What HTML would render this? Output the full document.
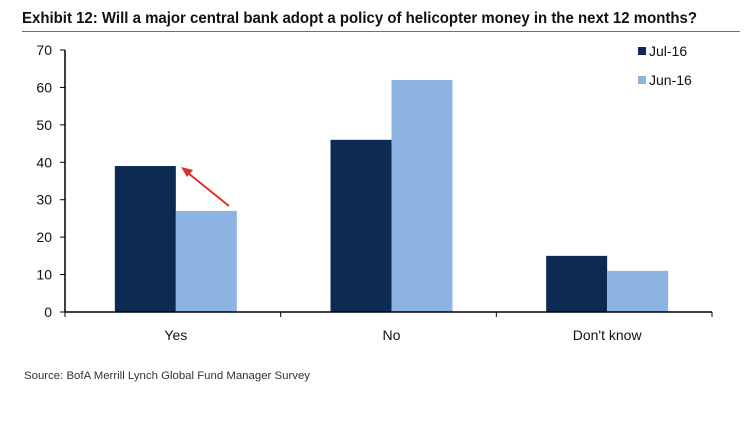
<!DOCTYPE html>
<html><head><meta charset="utf-8"><style>
body{margin:0;background:#fff;width:746px;height:428px;overflow:hidden;font-family:"Liberation Sans",Arial,sans-serif}
</style></head><body>
<svg width="746" height="428" style="position:absolute;left:0;top:0">
<text x="22" y="23" font-size="15.5" font-weight="bold" fill="#111" textLength="675" lengthAdjust="spacingAndGlyphs">Exhibit 12: Will a major central bank adopt a policy of helicopter money in the next 12 months?</text>
<line x1="22" y1="31.5" x2="740" y2="31.5" stroke="#5a7390" stroke-width="1"/>
<g id="plot"></g>
<text x="24" y="379" font-size="11" fill="#333" textLength="286" lengthAdjust="spacingAndGlyphs">Source: BofA Merrill Lynch Global Fund Manager Survey</text>
</svg>
<script>
const categories=["Yes","No","Don't know"];
const seriesNames=["Jul-16","Jun-16"];
const jul16=[39,46,15];
const jun16=[27,62,11];
const yTicks=[0,10,20,30,40,50,60,70];
const colors=["#0c2a52","#8db3e2"];
const NS="http://www.w3.org/2000/svg";
const g=document.getElementById('plot');
const x0=65,x1=712,y0=312,yTop=50,ymax=70;
const y=v=>y0-(v/ymax)*(y0-yTop);
const cw=(x1-x0)/categories.length;
function mk(t,a){const e=document.createElementNS(NS,t);for(const k in a)e.setAttribute(k,a[k]);g.appendChild(e);return e;}
const series=[jul16,jun16];
categories.forEach((c,i)=>{
  const cx=x0+cw*(i+0.5)+3;
  series.forEach((s,j)=>{
    const r=mk('rect',{x:cx-61+j*61,y:y(s[i]),width:61,height:y0-y(s[i]),fill:colors[j]});
    
    
  });
  const t=mk('text',{x:cx,y:340,'font-size':14,'text-anchor':'middle',fill:'#111'});
  t.textContent=c;
  
  
});
const ax=mk('line',{x1:x0,y1:yTop,x2:x0,y2:y0,stroke:'#000','stroke-width':1.5});


const bx=mk('line',{x1:x0,y1:y0,x2:x1,y2:y0,stroke:'#000','stroke-width':1.5});


for(let i=0;i<=categories.length;i++){const xx=x0+cw*i;const tk=mk('line',{x1:xx,y1:y0,x2:xx,y2:y0+5,stroke:'#000'});

}
yTicks.forEach(v=>{
  const tk=mk('line',{x1:x0-5,y1:y(v),x2:x0,y2:y(v),stroke:'#000'});
  
  
  const t=mk('text',{x:52,y:y(v)+5,'font-size':14,'text-anchor':'end',fill:'#111'});
  t.textContent=v;
  
  
});
seriesNames.forEach((n,j)=>{
  const r=mk('rect',{x:638,y:47+j*29,width:8,height:8,fill:colors[j]});
  
  
  const t=mk('text',{x:649,y:56+j*29,'font-size':14,fill:'#111'});
  t.textContent=n;
  
  
});
const ar=mk('line',{x1:229,y1:206,x2:188,y2:173,stroke:'#e0302a','stroke-width':2});


const ah=mk('polygon',{points:'181,167 193,170 187,177',fill:'#e0302a'});


</script>
</body></html>
